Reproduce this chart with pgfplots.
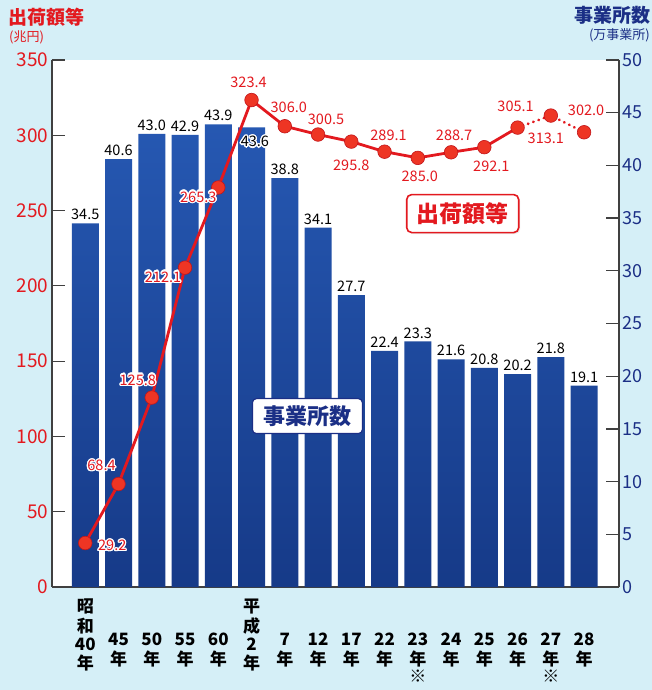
\documentclass[border=0pt]{standalone}
\usepackage{fontspec}
\setmainfont{Noto Sans CJK JP}
\usepackage{pgfplots}
\pgfplotsset{compat=1.18}
\usepackage{pgfplotstable}
\usetikzlibrary{shadows}
\usepackage{contour}
\contourlength{1.3pt}
\definecolor{myred}{HTML}{E3191F}
\definecolor{markred}{HTML}{EE3524}
\definecolor{navy}{HTML}{1B2F86}
\definecolor{bartop}{HTML}{2658B2}
\definecolor{barbot}{HTML}{163A88}
\definecolor{bgcyan}{HTML}{D5EFF7}

\pgfplotstableread{
x y lab
0 34.5 34.5
1 40.6 40.6
2 43.0 43.0
3 42.9 42.9
4 43.9 43.9
5 43.6 {}
6 38.8 38.8
7 34.1 34.1
8 27.7 27.7
9 22.4 22.4
10 23.3 23.3
11 21.6 21.6
12 20.8 20.8
13 20.2 20.2
14 21.8 21.8
15 19.1 19.1
}\bars

\pgfplotstableread{
x y dx dy lab
0 29.2 27 -3 29.2
1 68.4 -17 18 68.4
2 125.8 -14 17 125.8
3 212.1 -22 -10 212.1
4 265.3 -20 -10 265.3
5 323.4 -3 18 323.4
6 306.0 4 19 306.0
7 300.5 8 15 300.5
8 295.8 0 -24 295.8
9 289.1 4 16 289.1
10 285.0 2 -18 285.0
11 288.7 3 17 288.7
12 292.1 7 -19 292.1
13 305.1 -2 21 305.1
14 313.1 -5 -23 313.1
15 302.0 2 22 302.0
}\ship

\newcommand{\xl}[5]{\begin{tabular}{@{}c@{}}#1\\#2\\#3\\#4\\#5\end{tabular}}
\renewcommand{\arraystretch}{0.94}

\begin{document}
\begin{tikzpicture}
\fill[bgcyan] (-52pt,-103pt) rectangle (600pt,587pt);
\begin{axis}[
  at={(0pt,0pt)}, anchor=south west, scale only axis,
  width=567pt, height=527pt,
  xmin=-1, xmax=16.05, ymin=0, ymax=50,
  axis background/.style={fill=white},
  axis x line*=bottom, axis y line*=right,
  axis line style={draw=black!75, line width=1.2pt, -},
  ytick={0,5,...,50},
  yticklabel style={text=navy, font=\fontsize{18}{18}\selectfont},
  /pgf/number format/assume math mode=true,
  tick align=inside, major tick length=13pt,
  ytick style={draw=black!75, line width=1.2pt},
  xtick={0,...,15},
  xtick style={draw=none},
  xticklabels={\xl{昭}{和}{40}{年}{}, \xl{}{}{45}{年}{}, \xl{}{}{50}{年}{}, \xl{}{}{55}{年}{}, \xl{}{}{60}{年}{}, \xl{平}{成}{2}{年}{}, \xl{}{}{7}{年}{}, \xl{}{}{12}{年}{}, \xl{}{}{17}{年}{}, \xl{}{}{22}{年}{}, \xl{}{}{23}{年}{※}, \xl{}{}{24}{年}{}, \xl{}{}{25}{年}{}, \xl{}{}{26}{年}{}, \xl{}{}{27}{年}{※}, \xl{}{}{28}{年}{}},
  xticklabel style={font=\bfseries\fontsize{17}{18}\selectfont, anchor=north, yshift=-12pt, inner sep=0pt},
  clip=false,
]
\addplot[ybar, bar width=27pt, draw=none, top color=bartop, bottom color=barbot,
  nodes near coords, point meta=explicit symbolic,
  every node near coord/.append style={font=\fontsize{14.5}{15}\selectfont, text=black, anchor=south, inner sep=2pt, yshift=1pt}]
  table[x=x, y=y, meta=lab]{\bars};
\node[text=black, font=\fontsize{14.5}{15}\selectfont] at (axis cs:5.1,42.2) {\contour{white}{43.6}};
\end{axis}
\begin{axis}[
  at={(0pt,0pt)}, anchor=south west, scale only axis,
  width=567pt, height=527pt,
  xmin=-1, xmax=16.05, ymin=0, ymax=350,
  axis x line=none, axis y line*=left,
  axis line style={draw=black!75, line width=1.2pt, -},
  ytick={0,50,...,350},
  yticklabel style={text=myred, font=\fontsize{19}{19}\selectfont},
  /pgf/number format/assume math mode=true,
  tick align=inside, major tick length=13pt,
  ytick style={draw=black!75, line width=1.2pt},
  clip=false,
]
\addplot[myred, line width=2.8pt, restrict x to domain=0:13] table[x=x, y=y]{\ship};
\addplot[myred, line width=3pt, line cap=round, dash pattern=on 0.1pt off 5.5pt, restrict x to domain=13:15] table[x=x, y=y]{\ship};
\addplot[only marks, mark=*, mark size=6.8pt, mark options={fill=markred, draw=myred!85!black, line width=0.6pt}]
  table[x=x, y=y]{\ship};
% labels over the bars, with a white outline
\addplot[draw=none, mark=none, restrict x to domain=0:4,
  nodes near coords={\contour{white}{\pgfplotspointmeta}}, point meta=explicit symbolic,
  visualization depends on=\thisrow{dx}\as\dx,
  visualization depends on=\thisrow{dy}\as\dy,
  every node near coord/.append style={text=myred, font=\fontsize{14.5}{15}\selectfont, anchor=center, xshift=\dx pt, yshift=\dy pt}]
  table[x=x, y=y, meta=lab]{\ship};
% labels on the white area
\addplot[draw=none, mark=none, restrict x to domain=5:15,
  nodes near coords, point meta=explicit symbolic,
  visualization depends on=\thisrow{dx}\as\dx,
  visualization depends on=\thisrow{dy}\as\dy,
  every node near coord/.append style={text=myred, font=\fontsize{14.5}{15}\selectfont, anchor=center, xshift=\dx pt, yshift=\dy pt}]
  table[x=x, y=y, meta=lab]{\ship};
\node[draw=myred, line width=1.6pt, rounded corners=5pt, fill=white, text=myred,
  drop shadow={opacity=0.15, shadow xshift=1.5pt, shadow yshift=-1.5pt},
  font=\bfseries\fontsize{23}{23}\selectfont, minimum width=112pt, minimum height=38pt, inner sep=0pt]
  at (axis cs:11.35,248) {出荷額等};
\node[draw=navy, line width=1.2pt, rounded corners=4pt, fill=white, text=navy,
  font=\bfseries\fontsize{22}{22}\selectfont, minimum width=110pt, minimum height=35pt, inner sep=0pt]
  at (axis cs:6.68,113.5) {事業所数};
\end{axis}
\node[anchor=west, text=myred, font=\bfseries\fontsize{19}{19}\selectfont, inner sep=0pt] at (-44pt,570pt) {出荷額等};
\node[anchor=west, text=myred, font=\fontsize{13}{13}\selectfont, inner sep=0pt] at (-43pt,550pt) {(兆円)};
\node[anchor=east, text=navy, font=\bfseries\fontsize{19}{19}\selectfont, inner sep=0pt] at (599pt,572pt) {事業所数};
\node[anchor=east, text=navy, font=\fontsize{13}{13}\selectfont, inner sep=0pt] at (598pt,552pt) {(万事業所)};
\pgfresetboundingbox
\useasboundingbox (-52pt,-103pt) rectangle (600pt,587pt);
\end{tikzpicture}
\end{document}
